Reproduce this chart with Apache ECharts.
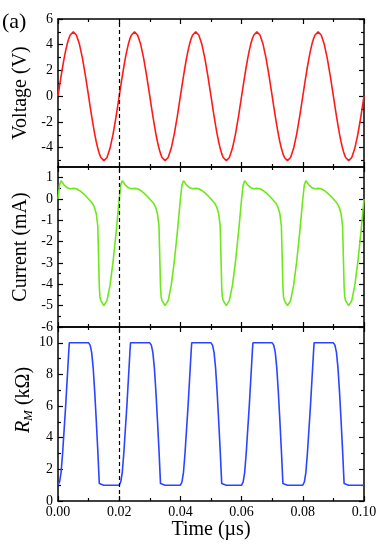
<!DOCTYPE html>
<html>
<head>
<meta charset="utf-8">
<title>Voltage, current and R_M</title>
<script src="https://cdn.jsdelivr.net/npm/echarts@6/dist/echarts.min.js"></script>
<style>
	html, body { margin: 0; padding: 0; background: #fff; }
	#chart { width: 382px; height: 546px; }
</style>
</head>
<body>
<div id="chart"></div>
<script>
// time in µs, one row per 0.02 µs period
const time = [
	0, 0.0005, 0.001, 0.0015, 0.002, 0.0025, 0.003, 0.0035, 0.0037, 0.004, 0.005, 0.006, 0.007, 0.008, 0.009, 0.01, 0.0105, 0.011, 0.0115, 0.012, 0.0125, 0.013, 0.0135, 0.0137, 0.014, 0.015, 0.016, 0.017, 0.018, 0.019,
	0.02, 0.0205, 0.021, 0.0215, 0.022, 0.0225, 0.023, 0.0235, 0.0237, 0.024, 0.025, 0.026, 0.027, 0.028, 0.029, 0.03, 0.0305, 0.031, 0.0315, 0.032, 0.0325, 0.033, 0.0335, 0.0337, 0.034, 0.035, 0.036, 0.037, 0.038, 0.039,
	0.04, 0.0405, 0.041, 0.0415, 0.042, 0.0425, 0.043, 0.0435, 0.0437, 0.044, 0.045, 0.046, 0.047, 0.048, 0.049, 0.05, 0.0505, 0.051, 0.0515, 0.052, 0.0525, 0.053, 0.0535, 0.0537, 0.054, 0.055, 0.056, 0.057, 0.058, 0.059,
	0.06, 0.0605, 0.061, 0.0615, 0.062, 0.0625, 0.063, 0.0635, 0.0637, 0.064, 0.065, 0.066, 0.067, 0.068, 0.069, 0.07, 0.0705, 0.071, 0.0715, 0.072, 0.0725, 0.073, 0.0735, 0.0737, 0.074, 0.075, 0.076, 0.077, 0.078, 0.079,
	0.08, 0.0805, 0.081, 0.0815, 0.082, 0.0825, 0.083, 0.0835, 0.0837, 0.084, 0.085, 0.086, 0.087, 0.088, 0.089, 0.09, 0.0905, 0.091, 0.0915, 0.092, 0.0925, 0.093, 0.0935, 0.0937, 0.094, 0.095, 0.096, 0.097, 0.098, 0.099, 0.1
]
// Voltage (V)
const voltage = [
	0, 0.78, 1.55, 2.27, 2.94, 3.54, 4.05, 4.46, 4.59, 4.76, 5, 4.76, 4.05, 2.94, 1.55, 0, -0.78, -1.55, -2.27, -2.94, -3.54, -4.05, -4.46, -4.59, -4.76, -5, -4.76, -4.05, -2.94, -1.55,
	0, 0.78, 1.55, 2.27, 2.94, 3.54, 4.05, 4.46, 4.59, 4.76, 5, 4.76, 4.05, 2.94, 1.55, 0, -0.78, -1.55, -2.27, -2.94, -3.54, -4.05, -4.46, -4.59, -4.76, -5, -4.76, -4.05, -2.94, -1.55,
	0, 0.78, 1.55, 2.27, 2.94, 3.54, 4.05, 4.46, 4.59, 4.76, 5, 4.76, 4.05, 2.94, 1.55, 0, -0.78, -1.55, -2.27, -2.94, -3.54, -4.05, -4.46, -4.59, -4.76, -5, -4.76, -4.05, -2.94, -1.55,
	0, 0.78, 1.55, 2.27, 2.94, 3.54, 4.05, 4.46, 4.59, 4.76, 5, 4.76, 4.05, 2.94, 1.55, 0, -0.78, -1.55, -2.27, -2.94, -3.54, -4.05, -4.46, -4.59, -4.76, -5, -4.76, -4.05, -2.94, -1.55,
	0, 0.78, 1.55, 2.27, 2.94, 3.54, 4.05, 4.46, 4.59, 4.76, 5, 4.76, 4.05, 2.94, 1.55, 0, -0.78, -1.55, -2.27, -2.94, -3.54, -4.05, -4.46, -4.59, -4.76, -5, -4.76, -4.05, -2.94, -1.55, 0
]
// Current (mA)
const current = [
	0, 0.65, 0.86, 0.76, 0.65, 0.59, 0.53, 0.47, 0.46, 0.48, 0.5, 0.48, 0.4, 0.29, 0.15, 0, -0.08, -0.16, -0.27, -0.43, -0.69, -1.26, -4.1, -4.59, -4.76, -5, -4.76, -4.05, -2.94, -1.55,
	0, 0.65, 0.86, 0.76, 0.65, 0.59, 0.53, 0.47, 0.46, 0.48, 0.5, 0.48, 0.4, 0.29, 0.15, 0, -0.08, -0.16, -0.27, -0.43, -0.69, -1.26, -4.1, -4.59, -4.76, -5, -4.76, -4.05, -2.94, -1.55,
	0, 0.65, 0.86, 0.76, 0.65, 0.59, 0.53, 0.47, 0.46, 0.48, 0.5, 0.48, 0.4, 0.29, 0.15, 0, -0.08, -0.16, -0.27, -0.43, -0.69, -1.26, -4.1, -4.59, -4.76, -5, -4.76, -4.05, -2.94, -1.55,
	0, 0.65, 0.86, 0.76, 0.65, 0.59, 0.53, 0.47, 0.46, 0.48, 0.5, 0.48, 0.4, 0.29, 0.15, 0, -0.08, -0.16, -0.27, -0.43, -0.69, -1.26, -4.1, -4.59, -4.76, -5, -4.76, -4.05, -2.94, -1.55,
	0, 0.65, 0.86, 0.76, 0.65, 0.59, 0.53, 0.47, 0.46, 0.48, 0.5, 0.48, 0.4, 0.29, 0.15, 0, -0.08, -0.16, -0.27, -0.43, -0.69, -1.26, -4.1, -4.59, -4.76, -5, -4.76, -4.05, -2.94, -1.55, 0
]
// R_M (kΩ)
const resistance = [
	1, 1.2, 1.8, 3, 4.5, 6, 7.7, 9.4, 10, 10, 10, 10, 10, 10, 10, 10, 9.85, 9.4, 8.4, 6.9, 5.1, 3.2, 1.1, 1, 1, 1, 1, 1, 1, 1,
	1, 1.2, 1.8, 3, 4.5, 6, 7.7, 9.4, 10, 10, 10, 10, 10, 10, 10, 10, 9.85, 9.4, 8.4, 6.9, 5.1, 3.2, 1.1, 1, 1, 1, 1, 1, 1, 1,
	1, 1.2, 1.8, 3, 4.5, 6, 7.7, 9.4, 10, 10, 10, 10, 10, 10, 10, 10, 9.85, 9.4, 8.4, 6.9, 5.1, 3.2, 1.1, 1, 1, 1, 1, 1, 1, 1,
	1, 1.2, 1.8, 3, 4.5, 6, 7.7, 9.4, 10, 10, 10, 10, 10, 10, 10, 10, 9.85, 9.4, 8.4, 6.9, 5.1, 3.2, 1.1, 1, 1, 1, 1, 1, 1, 1,
	1, 1.2, 1.8, 3, 4.5, 6, 7.7, 9.4, 10, 10, 10, 10, 10, 10, 10, 10, 9.85, 9.4, 8.4, 6.9, 5.1, 3.2, 1.1, 1, 1, 1, 1, 1, 1, 1, 1
]
// tick values
const vMajor = [-4, -2, 0, 2, 4, 6]
const vMinor = [-5, -3, -1, 1, 3, 5]
const iMajor = [-6, -5, -4, -3, -2, -1, 0, 1]
const iMinor = [-5.5, -4.5, -3.5, -2.5, -1.5, -0.5, 0.5]
const rMajor = [0, 2, 4, 6, 8, 10]
const rMinor = [1, 3, 5, 7, 9]
const markTime = 0.02

const font = 'Liberation Serif'
const black = '#000'

function xAxisPair(grid, last) {
	let common = {
		type: 'value',
		gridIndex: grid,
		min: 0,
		max: 0.1,
		interval: 0.02,
		axisLine: { show: true, onZero: false, lineStyle: { color: black, width: 1.5 } },
		axisTick: { show: true, inside: true, length: 5, lineStyle: { color: black, width: 1.2 } },
		minorTick: { show: true, splitNumber: 2, length: 3, lineStyle: { color: black, width: 1.2 } },
		splitLine: { show: false }
	}
	let bottom = Object.assign({}, common, {
		position: 'bottom',
		axisLabel: {
			show: last,
			margin: 4,
			color: black,
			fontFamily: font,
			fontSize: 14,
			formatter: (v) => v.toFixed(2)
		}
	})
	if (last) {
		bottom.name = 'Time (µs)'
		bottom.nameLocation = 'middle'
		bottom.nameGap = 19
		bottom.nameTextStyle = { color: black, fontFamily: font, fontSize: 20 }
	}
	let top = Object.assign({}, common, {
		position: 'top',
		axisLabel: { show: false }
	})
	return [bottom, top]
}

function yAxes(grid, min, max, major, minor, name) {
	let line = { show: true, onZero: false, lineStyle: { color: black, width: 1.5 } }
	let tickStyle = { color: black, width: 1.2 }
	let base = { type: 'value', gridIndex: grid, min: min, max: max, splitLine: { show: false } }
	let left = Object.assign({}, base, {
		position: 'left',
		axisLine: line,
		axisTick: { show: true, inside: true, length: 5, customValues: major, lineStyle: tickStyle },
		axisLabel: { show: true, customValues: major, margin: 5, color: black, fontFamily: font, fontSize: 14 },
		name: name,
		nameLocation: 'middle',
		nameGap: 27,
		nameTextStyle: { color: black, fontFamily: font, fontSize: 20 }
	})
	let leftMinor = Object.assign({}, base, {
		position: 'left',
		axisLine: { show: false, onZero: false },
		axisTick: { show: true, inside: true, length: 3, customValues: minor, lineStyle: tickStyle },
		axisLabel: { show: false }
	})
	let right = Object.assign({}, base, {
		position: 'right',
		axisLine: line,
		axisTick: { show: true, inside: true, length: 5, customValues: major, lineStyle: tickStyle },
		axisLabel: { show: false }
	})
	let rightMinor = Object.assign({}, base, {
		position: 'right',
		axisLine: { show: false, onZero: false },
		axisTick: { show: true, inside: true, length: 3, customValues: minor, lineStyle: tickStyle },
		axisLabel: { show: false }
	})
	return [left, leftMinor, right, rightMinor]
}

function lineSeries(xi, yi, values, color, ymin, ymax) {
	return {
		type: 'line',
		xAxisIndex: xi,
		yAxisIndex: yi,
		data: time.map((t, i) => [t, values[i]]),
		showSymbol: false,
		clip: false,
		lineStyle: { color: color, width: 1.6 },
		markLine: {
			silent: true,
			symbol: 'none',
			z: 10,
			label: { show: false },
			lineStyle: { color: black, width: 1.2, type: [4, 3], opacity: 1 },
			data: [[{ coord: [markTime, ymin] }, { coord: [markTime, ymax] }]]
		}
	}
}

let myChart = echarts.init(document.getElementById('chart'))
myChart.setOption({
	animation: false,
	backgroundColor: '#fff',
	grid: [
		{ left: 58, right: 18, top: 19, height: 148 },
		{ left: 58, right: 18, top: 167, height: 160 },
		{ left: 58, right: 18, top: 327, height: 174 }
	],
	graphic: [{
		type: 'text',
		left: 2,
		top: 11,
		style: { text: '(a)', fill: black, font: '22px "Liberation Serif"' }
	}, {
		type: 'text',
		x: 24,
		y: 400,
		rotation: Math.PI / 2,
		style: {
			text: '{r|R}{m|M}{n| (kΩ)}',
			align: 'center',
			verticalAlign: 'middle',
			rich: {
				r: { fontFamily: font, fontSize: 20, fontStyle: 'italic', fill: black },
				m: { fontFamily: font, fontSize: 13, fontStyle: 'italic', fill: black, padding: [10, 0, 0, 0] },
				n: { fontFamily: font, fontSize: 20, fill: black }
			}
		}
	}],
	xAxis: [].concat(xAxisPair(0, false), xAxisPair(1, false), xAxisPair(2, true)),
	yAxis: [].concat(
		yAxes(0, -5.5, 6, vMajor, vMinor, 'Voltage (V)'),
		yAxes(1, -6, 1.5, iMajor, iMinor, 'Current (mA)'),
		yAxes(2, 0, 11, rMajor, rMinor, '')
	),
	series: [
		lineSeries(0, 0, voltage, '#ff1a1a', -5.5, 6),
		lineSeries(2, 4, current, '#6ee81c', -6, 1.5),
		lineSeries(4, 8, resistance, '#2a44ff', 0, 11)
	]
})
</script>
</body>
</html>
